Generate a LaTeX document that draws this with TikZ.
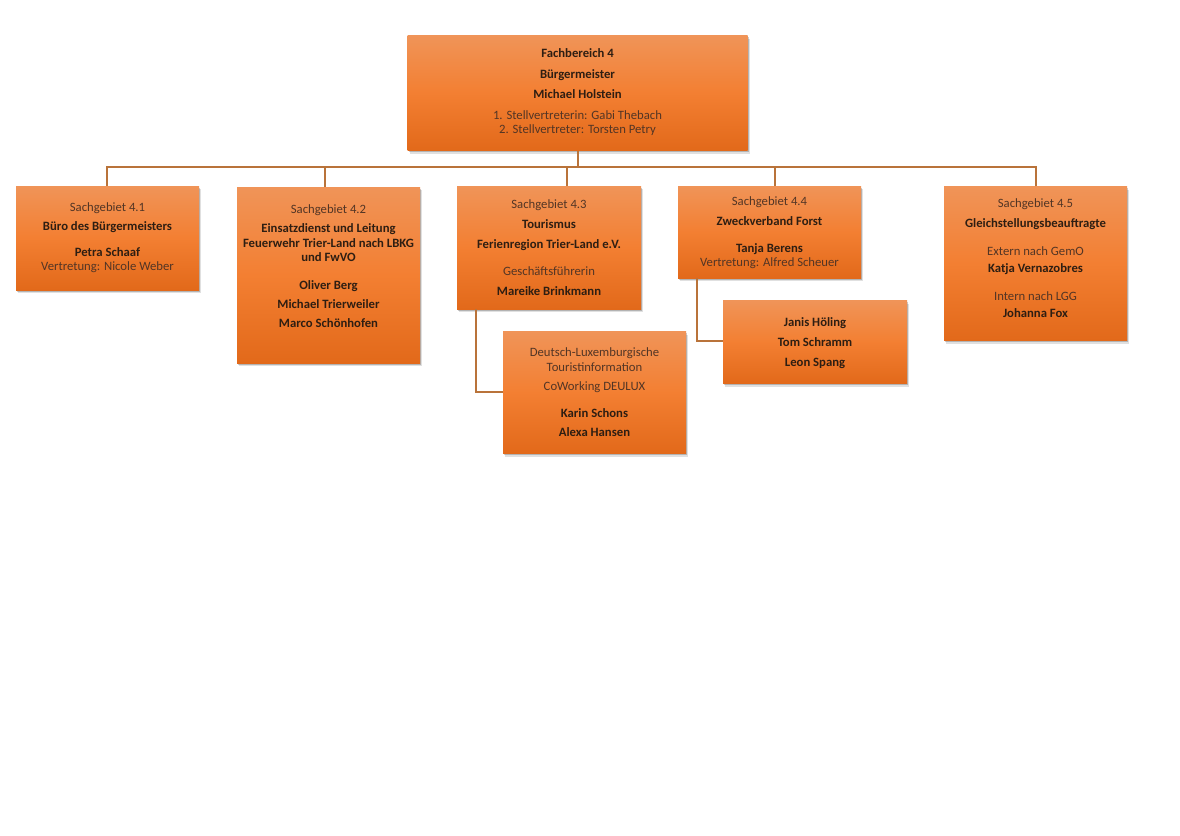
\documentclass[tikz,border=0pt]{standalone}
\usepackage{fontspec}
\setmainfont{Carlito}
\usetikzlibrary{shadows}
\definecolor{boxtop}{HTML}{F09458}
\definecolor{boxmid}{HTML}{F37F32}
\definecolor{boxbot}{HTML}{E2691A}
\definecolor{linec}{HTML}{B9733A}
\definecolor{txt}{HTML}{2E1E12}
\definecolor{txtl}{HTML}{523525}
\begin{document}
\begin{tikzpicture}[x=1pt,y=-1pt,
  orgbox/.style={rectangle, inner sep=0pt,
    top color=boxtop, bottom color=boxbot, middle color=boxmid,
    drop shadow={shadow xshift=1pt, shadow yshift=-1.5pt, opacity=0.2, fill=black},
    drop shadow={shadow xshift=2pt, shadow yshift=-3pt, opacity=0.12, fill=black}},
  boxtext/.style={inner sep=0pt, align=center, text=txt,
    font=\fontsize{12.7}{14.5}\selectfont},
  conn/.style={draw=linec, line width=2pt}]
\useasboundingbox (0,0) rectangle (1180,835);
\fill[white] (0,0) rectangle (1180,835);

% boxes
\node[orgbox, minimum width=340, minimum height=115] (top) at (577.5,93) {};
\node[orgbox, minimum width=183, minimum height=104] (s1) at (107.5,238) {};
\node[orgbox, minimum width=183, minimum height=176] (s2) at (328.5,275) {};
\node[orgbox, minimum width=184, minimum height=123] (s3) at (549,247.5) {};
\node[orgbox, minimum width=183, minimum height=92] (s4) at (769.5,232) {};
\node[orgbox, minimum width=183, minimum height=154] (s5) at (1035.5,263.5) {};
\node[orgbox, minimum width=183, minimum height=122] (s3a) at (594.5,392.5) {};
\node[orgbox, minimum width=184, minimum height=83] (s4a) at (815,342) {};

% texts
\node[boxtext] (topt) at ([yshift=0.5pt]top.center)
 {\bfseries Fachbereich 4\\[6pt]\bfseries Bürgermeister\\[6pt]\bfseries Michael Holstein\\[6pt]
  \color{txtl}1. Stellvertreterin: Gabi Thebach\\\color{txtl}2. Stellvertreter: Torsten Petry};

\node[boxtext] (s1t) at ([yshift=0.5pt]s1.center)
 {\color{txtl}Sachgebiet 4.1\\[4.5pt]\bfseries Büro des Bürgermeisters\\[11.5pt]\bfseries Petra Schaaf\\\color{txtl}Vertretung: Nicole Weber};

\node[boxtext] (s2t) at ([yshift=9pt]s2.center)
 {\color{txtl}Sachgebiet 4.2\\[4.5pt]\bfseries Einsatzdienst und Leitung\\\bfseries Feuerwehr Trier-Land nach LBKG\\\bfseries und FwVO\\[13pt]
  \bfseries Oliver Berg\\[4.5pt]\bfseries Michael Trierweiler\\[4.5pt]\bfseries Marco Schönhofen};

\node[boxtext] (s3t) at (s3.center)
 {\color{txtl}Sachgebiet 4.3\\[5.5pt]\bfseries Tourismus\\[5.5pt]\bfseries Ferienregion Trier-Land e.V.\\[12.5pt]
  \color{txtl}Geschäftsführerin\\[5.5pt]\bfseries Mareike Brinkmann};

\node[boxtext] (s4t) at ([yshift=-0.5pt]s4.center)
 {\color{txtl}Sachgebiet 4.4\\[5.5pt]\bfseries Zweckverband Forst\\[12.5pt]\bfseries Tanja Berens\\\color{txtl}Vertretung: Alfred Scheuer};

\node[boxtext] (s5t) at ([yshift=5pt]s5.center)
 {\color{txtl}Sachgebiet 4.5\\[5.5pt]\bfseries Gleichstellungsbeauftragte\\[13pt]
  \color{txtl}Extern nach GemO\\[3pt]\bfseries Katja Vernazobres\\[13pt]
  \color{txtl}Intern nach LGG\\[3pt]\bfseries Johanna Fox};

\node[boxtext] (s3at) at (s3a.center)
 {\color{txtl}Deutsch-Luxemburgische\\\color{txtl}Touristinformation\\[4.5pt]\color{txtl}CoWorking DEULUX\\[13pt]
  \bfseries Karin Schons\\[4.5pt]\bfseries Alexa Hansen};

\node[boxtext] (s4at) at ([yshift=-1pt]s4a.center)
 {\bfseries Janis Höling\\[5.5pt]\bfseries Tom Schramm\\[5.5pt]\bfseries Leon Spang};

% connectors
\coordinate (bus) at (578,167);
\draw[conn] (top.south -| bus) -- (bus);
\draw[conn] (107,0 |- s1.north) |- (bus);
\draw[conn] (1036,0 |- s5.north) |- (bus);
\draw[conn] (325,0 |- s2.north) -- (325,0 |- bus);
\draw[conn] (567,0 |- s3.north) -- (567,0 |- bus);
\draw[conn] (775,0 |- s4.north) -- (775,0 |- bus);
\draw[conn] (476,0 |- s3.south) |- (s3a.west |- 0,392);
\draw[conn] (697,0 |- s4.south) |- (s4a.west |- 0,341);
\end{tikzpicture}
\end{document}
